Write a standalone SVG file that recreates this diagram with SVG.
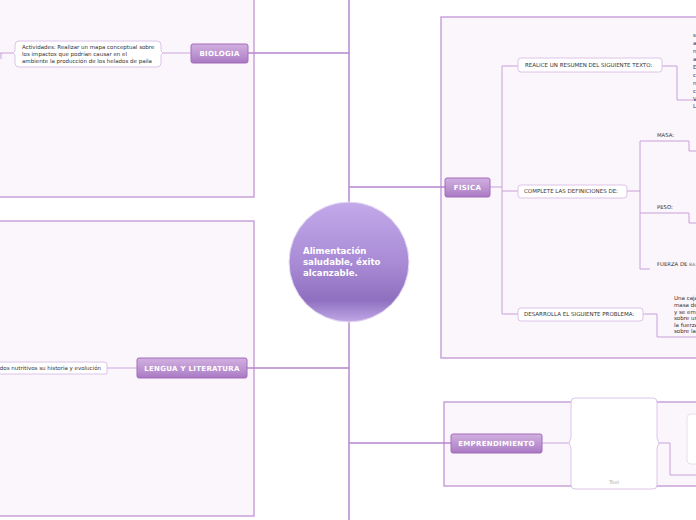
<svg xmlns="http://www.w3.org/2000/svg" width="696" height="520" viewBox="0 0 696 520">
<defs>
<linearGradient id="mg" x1="0" y1="0" x2="0" y2="1">
<stop offset="0" stop-color="#d2b0e0"/>
<stop offset="0.7" stop-color="#b68ccd"/>
<stop offset="1" stop-color="#a877c2"/>
</linearGradient>
<linearGradient id="cg" x1="0" y1="0" x2="0" y2="1">
<stop offset="0" stop-color="#c3aaea"/>
<stop offset="0.5" stop-color="#a98bd6"/>
<stop offset="0.82" stop-color="#8f70c0"/>
<stop offset="1" stop-color="#c0a8e6"/>
</linearGradient>
<style>
.bd{fill:#fbf5fc;stroke:#c9a2da;stroke-width:1.5}
.main{fill:url(#mg);stroke:#a36cbd;stroke-width:1}
.mt{font-family:"DejaVu Sans",sans-serif;font-weight:bold;font-size:7px;fill:#ffffff;text-anchor:middle;letter-spacing:0.3px}
.tn{fill:#ffffff;stroke:#dcc4e8;stroke-width:1}
.tt{font-family:"DejaVu Sans",sans-serif;font-size:5.5px;fill:#333333}
.sl{font-family:"DejaVu Sans",sans-serif;font-size:5.3px;fill:#333333}
.trunk{fill:none;stroke:#b887cc;stroke-width:1.5}
.ln{fill:none;stroke:#c9a0da;stroke-width:1}
.lnl{fill:none;stroke:#dcc2e8;stroke-width:1.5}
</style>
</defs>
<!-- boundaries -->
<rect class="bd" x="-5" y="-5" width="259" height="202"/>
<rect class="bd" x="-5" y="221" width="259" height="295"/>
<rect class="bd" x="441" y="17" width="260" height="341"/>
<rect class="bd" x="444" y="402" width="257" height="84"/>
<g id="connectors">
<path class="trunk" d="M349 0V520"/>
<path class="trunk" d="M248 53H349M247 368H349M349 187H445M349 443H451"/>
<path class="lnl" d="M161 53H191M107 368H137M542 443H571"/>
<path class="ln" d="M0 53H14M1 53V59"/>
<path class="ln" d="M490 187H502M502 66V314M502 66H518M502 191H518M502 314H518"/>
<path class="ln" d="M662 66H677V100H696"/>
<path class="ln" d="M627 191H640M640 141V269M640 141H689V151H696M640 213H689V223H696M640 269H650"/>
<path class="ln" d="M643 314H657V337H696"/>
<path class="ln" d="M657 443H670V475H696"/>
</g>
<g id="center">
<circle cx="349" cy="262" r="60" fill="url(#cg)" stroke="#e6dcf4" stroke-width="1"/>
<text font-family="DejaVu Sans,sans-serif" font-weight="bold" font-size="8.6" fill="#ffffff"><tspan x="303" y="254">Alimentación</tspan><tspan x="303" y="265">saludable, éxito</tspan><tspan x="303" y="276">alcanzable.</tspan></text>
</g>
<g id="biologia">
<rect class="main" x="191" y="44" width="57" height="19" rx="2"/>
<text class="mt" x="219.5" y="56">BIOLOGIA</text>
</g>
<g id="biologia-actividades">
<path class="tn" d="M19 41H157Q161 41 161 45V51L163 53L161 55V63Q161 67 157 67H19Q15 67 15 63V55L13 53L15 51V45Q15 41 19 41Z"/>
<text class="tt"><tspan x="22" y="49">Actividades: Realizar un mapa conceptual sobre</tspan><tspan x="22" y="56">los impactos que podrían causar  en el</tspan><tspan x="22" y="62.5">ambiente la producción de los helados de paila</tspan></text>
</g>
<g id="lengua">
<rect class="main" x="137" y="358" width="110" height="20" rx="2"/>
<text class="mt" x="192" y="370.5">LENGUA Y LITERATURA</text>
</g>
<g id="lengua-texto">
<path class="tn" d="M-5 362H104Q107 362 107 365V374Q107 374 104 374H-5Z"/>
<text class="tt" x="101" y="370" text-anchor="end">dos nutritivos su historia y evolución</text>
</g>
<g id="fisica">
<rect class="main" x="445" y="178" width="45" height="19" rx="2"/>
<text class="mt" x="467.5" y="190">FISICA</text>
</g>
<g id="resumen">
<rect class="tn" x="518" y="58" width="144" height="14" rx="3"/>
<text class="tt" x="525" y="67">REALICE UN RESUMEN DEL SIGUIENTE TEXTO:</text>
<text class="tt"><tspan x="693" y="37">s</tspan><tspan x="693" y="45">a</tspan><tspan x="693" y="53">n</tspan><tspan x="693" y="61">a</tspan><tspan x="693" y="69">E</tspan><tspan x="693" y="77">c</tspan><tspan x="693" y="85">n</tspan><tspan x="693" y="93">c</tspan><tspan x="693" y="101">V</tspan><tspan x="693" y="108">L</tspan></text>
</g>
<g id="definiciones">
<rect class="tn" x="518" y="185" width="109" height="13" rx="3"/>
<text class="tt" x="524" y="193.4">COMPLETE LAS DEFINICIONES DE:</text>
</g>
<g id="masa"><text class="sl" x="657" y="137">MASA:</text></g>
<g id="peso"><text class="sl" x="657" y="209">PESO:</text></g>
<g id="fuerza"><text class="sl" x="657" y="266">FUERZA DE <tspan font-size="4.6" fill="#777">BA</tspan></text></g>
<g id="problema">
<rect class="tn" x="518" y="308" width="125" height="13" rx="3"/>
<text class="tt" x="524" y="316.4">DESARROLLA EL SIGUIENTE PROBLEMA:</text>
<text class="tt"><tspan x="674" y="300">Una caja</tspan><tspan x="674" y="307">masa de</tspan><tspan x="674" y="313.5">y se em</tspan><tspan x="674" y="320">sobre un</tspan><tspan x="674" y="326.5">la fuerza</tspan><tspan x="674" y="333">sobre la</tspan></text>
</g>
<g id="emprendimiento">
<rect class="main" x="451" y="434" width="91" height="19" rx="2"/>
<text class="mt" x="496.5" y="446">EMPRENDIMIENTO</text>
</g>
<g id="tool">
<path class="tn" d="M575 398H653Q657 398 657 402V438L659 443L657 448V485Q657 489 653 489H575Q571 489 571 485V448L569 443L571 438V402Q571 398 575 398Z"/>
<text x="614" y="484" font-family="DejaVu Sans,sans-serif" font-size="5" fill="#aaaaaa" text-anchor="middle">Tool</text>
</g>
<g id="tool-child">
<rect x="687" y="414" width="20" height="50" rx="4" fill="#ffffff" stroke="#e8e0ec" stroke-width="1"/>
</g>
</svg>
